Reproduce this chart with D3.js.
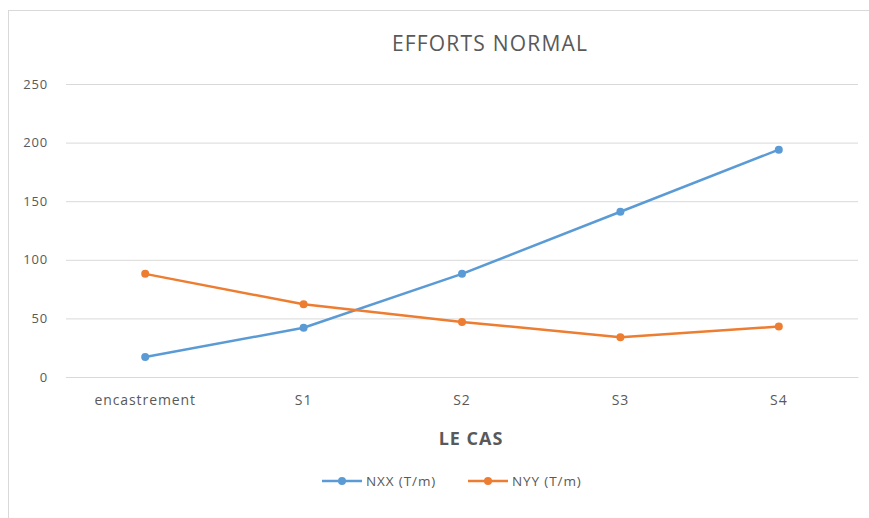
<!DOCTYPE html>
<meta charset="utf-8">
<script src="https://d3js.org/d3.v7.min.js"></script>
<style>
  body { margin: 0; background: #fff; }
  text { font-family: "Open Sans", "Liberation Sans", sans-serif; fill: #595959; }
</style>
<div id="chart"></div>
<script>

    // data
    var categories = ["encastrement", "S1", "S2", "S3", "S4"];
    var nxx = [17, 42, 88, 141, 194];
    var nyy = [88, 62, 47, 34, 43];
    var yTicks = [0, 50, 100, 150, 200, 250];
    var seriesNames = ["NXX (T/m)", "NYY (T/m)"];
    var seriesColors = ["#5B9BD5", "#ED7D31"];

    var width = 869, height = 518;
    var margin = {top: 84, right: 11, bottom: 141, left: 66};

    var svg = d3.select("#chart")
        .append("svg")
            .attr("width", width)
            .attr("height", height);

    // chart frame
    svg.append("rect")
        .attr("x", 8.5).attr("y", 10.5)
        .attr("width", width + 10).attr("height", height + 10)
        .attr("fill", "none")
        .attr("stroke", "#d9d9d9");

    var x = d3.scaleBand()
        .domain(categories)
        .range([margin.left, width - margin.right]);

    var y = d3.scaleLinear()
        .domain([0, 250])
        .range([height - margin.bottom, margin.top]);

    // gridlines + y labels
    var yAxis = svg.append("g")
        .attr("transform", "translate(" + margin.left + ",0)")
        .call(d3.axisLeft(y).tickValues(yTicks).tickSize(-(width - margin.left - margin.right)).tickPadding(18));
    yAxis.select(".domain").remove();
    yAxis.selectAll("line").attr("stroke", "#d9d9d9");
    yAxis.selectAll("text")
        .style("font-size", "13px")
        .style("letter-spacing", "0.8px")
        .attr("fill", "#595959");

    // x labels
    var xAxis = svg.append("g")
        .attr("transform", "translate(0," + (height - margin.bottom) + ")")
        .call(d3.axisBottom(x).tickSize(0).tickPadding(18));
    xAxis.select(".domain").attr("stroke", "#d9d9d9");
    xAxis.selectAll("text")
        .style("font-size", "14px")
        .style("letter-spacing", "0.9px")
        .attr("fill", "#595959");

    var line = d3.line()
        .x(function (d, i) { return x(categories[i]) + x.bandwidth() / 2; })
        .y(function (d) { return y(d); });

    [nxx, nyy].forEach(function (values, k) {
        var g = svg.append("g");
        g.append("path")
            .datum(values)
            .attr("d", line)
            .attr("fill", "none")
            .attr("stroke", seriesColors[k])
            .attr("stroke-width", 2.5)
            .attr("stroke-linejoin", "round");
        g.selectAll("circle")
            .data(values)
            .enter()
            .append("circle")
            .attr("cx", function (d, i) { return x(categories[i]) + x.bandwidth() / 2; })
            .attr("cy", function (d) { return y(d); })
            .attr("r", 4)
            .attr("fill", seriesColors[k]);
    });

    // titles
    svg.append("text")
        .attr("x", 490).attr("y", 51)
        .attr("text-anchor", "middle")
        .style("font-size", "21px")
        .style("letter-spacing", "1.2px")
        .text("EFFORTS NORMAL");

    svg.append("text")
        .attr("x", 471).attr("y", 445)
        .attr("text-anchor", "middle")
        .style("font-size", "18px")
        .style("letter-spacing", "1px")
        .style("font-weight", "bold")
        .text("LE CAS");

    // legend
    var legendX = [322, 468];
    seriesNames.forEach(function (name, k) {
        var lg = svg.append("g").attr("transform", "translate(" + legendX[k] + ",481)");
        lg.append("line")
            .attr("x1", 0).attr("x2", 40)
            .attr("stroke", seriesColors[k])
            .attr("stroke-width", 2.5);
        lg.append("circle")
            .attr("cx", 20).attr("r", 4)
            .attr("fill", seriesColors[k]);
        lg.append("text")
            .attr("x", 44).attr("y", 5)
            .style("font-size", "13.5px")
            .style("letter-spacing", "0.9px")
            .text(name);
    });

</script>
